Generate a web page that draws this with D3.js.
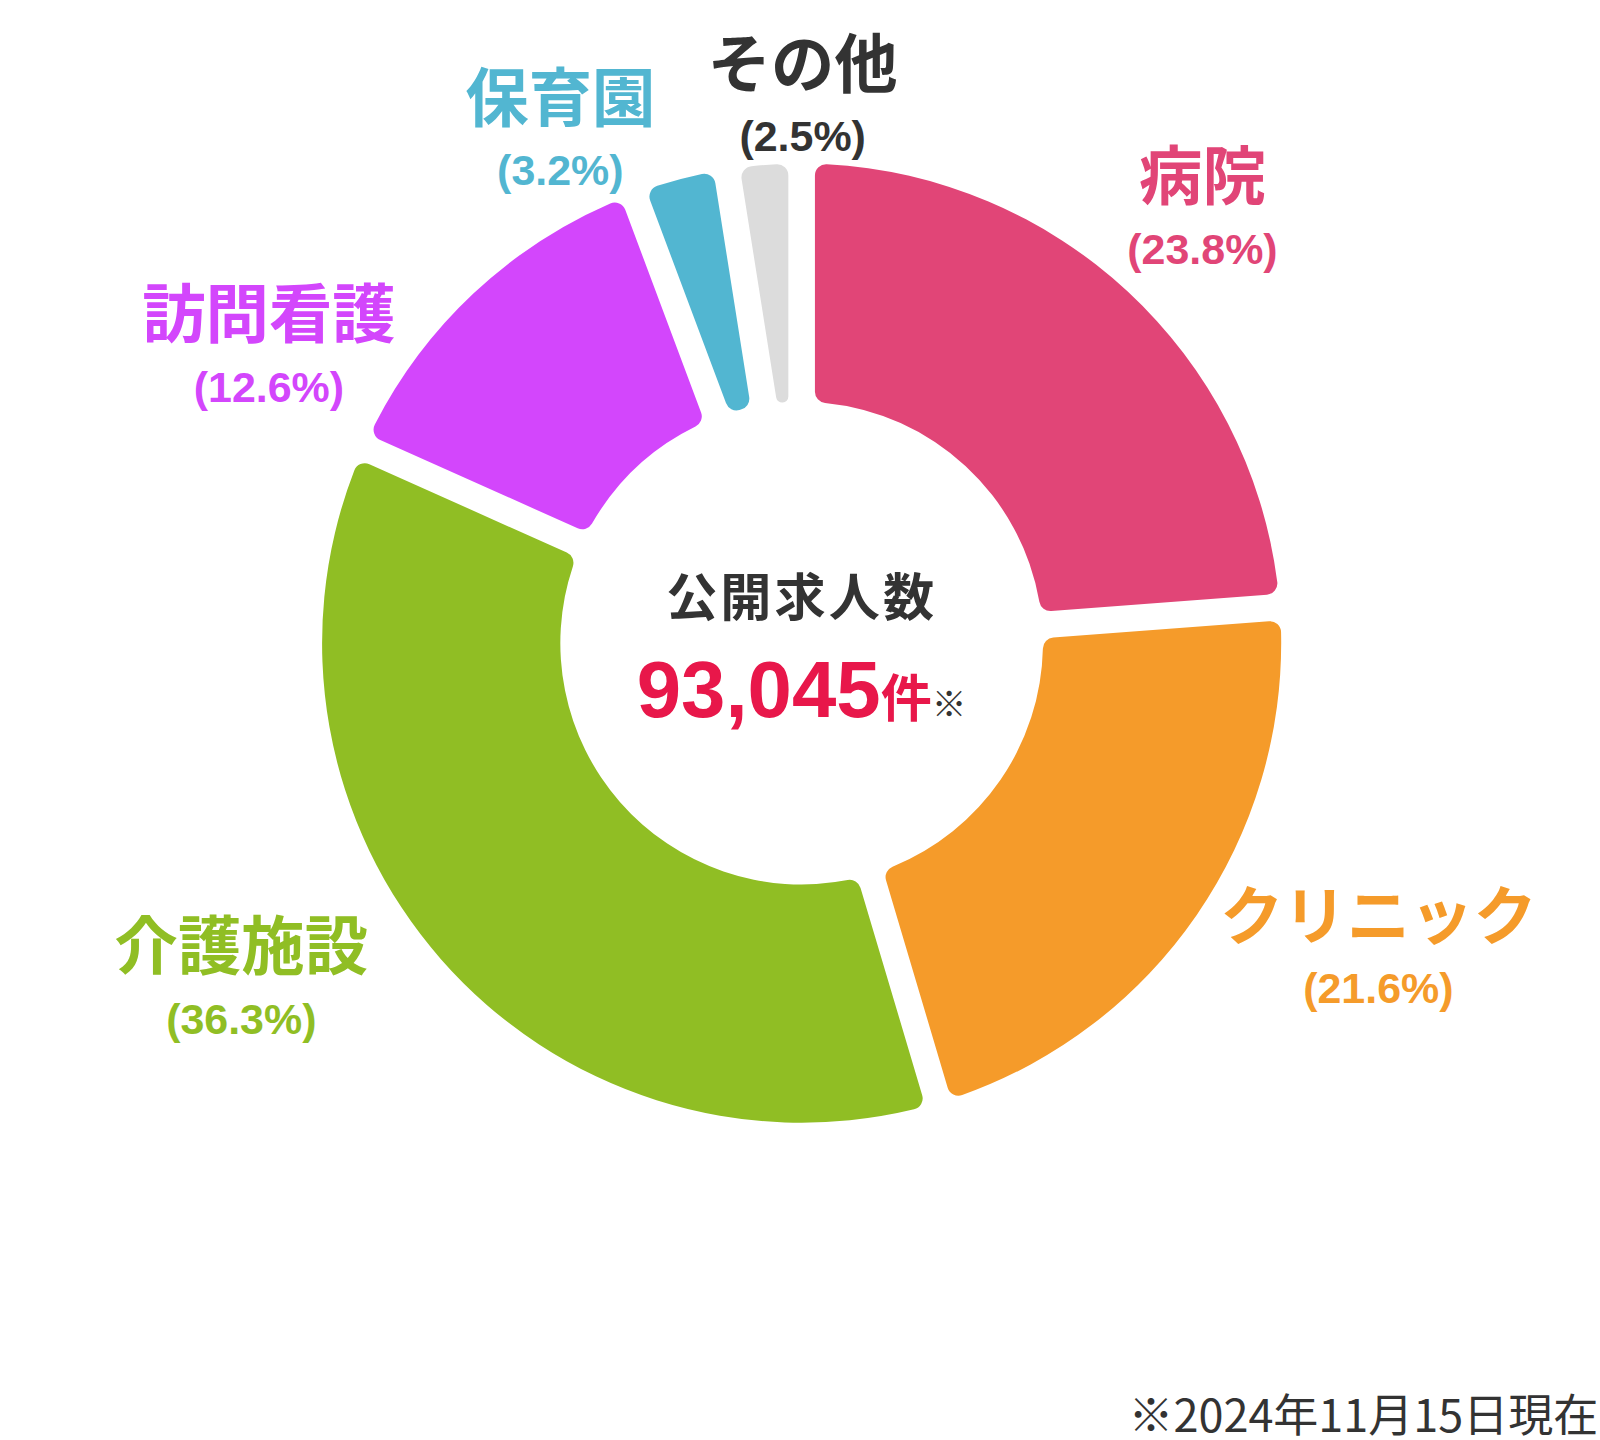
<!DOCTYPE html>
<html><head><meta charset="utf-8">
<script src="https://cdn.jsdelivr.net/npm/d3@7/dist/d3.min.js"></script>
<style>body{margin:0;background:#fff}</style></head>
<body><svg id="c" width="1600" height="1440"></svg>
<script>
const categories = ["病院","クリニック","介護施設","訪問看護","保育園","その他"];
const values = [23.8,21.6,36.3,12.6,3.2,2.5];
const colors = ["#e14577","#f59b2a","#90be24","#d346fc","#52b6d1","#dcdcdc"];
const labelColors = ["#e14577","#f59b2a","#90be24","#d346fc","#52b6d1","#333333"];
const labelPos = [[1176,195],[1348,918],[236,948],[263,330],[548,118],[785,85]];

const root = d3.select("#c").append("g").attr("transform","scale(1.0225)");
const cx = 784, cy = 629, R = 469, r0 = 236;
const g = root.append("g").attr("transform",`translate(${cx},${cy})`);
const pie = d3.pie().sort(null).value(d=>d)(values);
const arc = d3.arc().innerRadius(r0).outerRadius(R).cornerRadius(11)
  .padAngle(26/R).padRadius(R);
g.selectAll("path").data(pie).join("path").attr("d",arc).attr("fill",(d,i)=>colors[i]);

const cjk = "'Noto Sans CJK JP', sans-serif";
const num = "'Liberation Sans', Arial, sans-serif";
categories.forEach((c,i)=>{
  const [x,y]=labelPos[i];
  root.append("text").attr("x",x).attr("y",y).attr("text-anchor","middle")
    .attr("font-family",cjk).attr("font-weight",700).attr("font-size",62)
    .attr("fill",labelColors[i]).text(c);
  root.append("text").attr("x",x).attr("y",y+63).attr("text-anchor","middle")
    .attr("font-family",num).attr("font-weight",700).attr("font-size",42)
    .attr("fill",labelColors[i]).text(`(${values[i].toFixed(1)}%)`);
});

root.append("text").attr("x",cx).attr("y",602).attr("text-anchor","middle")
  .attr("font-family",cjk).attr("font-weight",700).attr("font-size",50)
  .attr("fill","#333").attr("letter-spacing",3).text("公開求人数");
const t = root.append("text").attr("x",cx).attr("y",701).attr("text-anchor","middle").attr("fill","#e8174a");
t.append("tspan").attr("font-family",num).attr("font-weight",700).attr("font-size",78).text("93,045");
t.append("tspan").attr("font-family",cjk).attr("font-weight",700).attr("font-size",50).text("件");
t.append("tspan").attr("font-family",cjk).attr("font-size",34).attr("fill","#333").text("※");

root.append("text").attr("x",1563).attr("y",1400).attr("text-anchor","end")
  .attr("font-family",cjk).attr("font-size",44).attr("fill","#333").text("※2024年11月15日現在");
</script></body></html>
